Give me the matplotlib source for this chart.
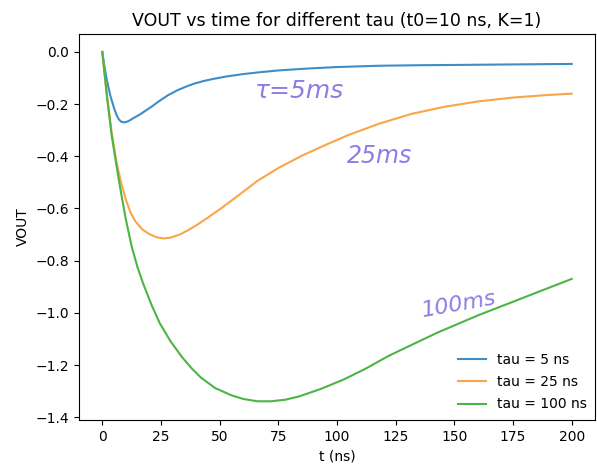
# VOUT vs time for three tau values
import matplotlib
matplotlib.use("Agg")
import matplotlib.pyplot as plt

t_5 = [0, 1, 2, 3.5, 5, 6, 7, 8, 9, 10, 11, 12.5, 14, 16, 18, 21, 24, 28, 32, 36, 39,
       43, 47, 53, 60, 67, 75, 87, 100, 118, 135, 150, 175, 200]
v_5 = [0, -0.06, -0.11, -0.17, -0.215, -0.24, -0.258, -0.267, -0.27, -0.269, -0.266,
       -0.258, -0.25, -0.24, -0.228, -0.21, -0.19, -0.166, -0.147, -0.132, -0.122,
       -0.112, -0.104, -0.094, -0.085, -0.078, -0.071, -0.064, -0.058, -0.053,
       -0.051, -0.05, -0.048, -0.046]

t_25 = [0, 2, 4, 6, 8, 10, 12, 14, 17, 20, 23, 26, 29, 33, 36, 40, 45, 51, 58, 66,
        75, 85, 95, 105, 118, 132, 146, 160, 175, 190, 200]
v_25 = [0, -0.17, -0.31, -0.42, -0.50, -0.565, -0.615, -0.648, -0.68, -0.698, -0.71,
        -0.715, -0.712, -0.70, -0.686, -0.665, -0.635, -0.597, -0.55, -0.495,
        -0.445, -0.398, -0.357, -0.318, -0.275, -0.237, -0.21, -0.19, -0.175,
        -0.165, -0.16]

t_100 = [0, 2, 4, 6.5, 8, 10, 12.5, 15, 17.5, 21, 24.5, 29, 34, 38, 42, 48, 55, 60,
         66, 72, 78, 84, 93, 103, 112, 122, 132, 143, 160, 180, 200]
v_100 = [0, -0.17, -0.32, -0.46, -0.54, -0.64, -0.745, -0.825, -0.89, -0.97, -1.04,
         -1.108, -1.17, -1.212, -1.248, -1.288, -1.316, -1.33, -1.339, -1.339,
         -1.333, -1.32, -1.292, -1.255, -1.215, -1.165, -1.122, -1.075, -1.01,
         -0.94, -0.87]

labels = ["tau = 5 ns", "tau = 25 ns", "tau = 100 ns"]
colors = ["#3d8dc8", "#f9a548", "#4cb544"]
notes = ["τ=5ms", "25ms", "100ms"]

fig = plt.figure(figsize=(5.97, 4.68), dpi=100)
ax = fig.add_axes([0.132, 0.103, 0.865, 0.824])

ax.plot(t_5, v_5, color=colors[0], label=labels[0])
ax.plot(t_25, v_25, color=colors[1], label=labels[1])
ax.plot(t_100, v_100, color=colors[2], label=labels[2])

ax.set_xlim(-10, 210)
ax.set_ylim(-1.41, 0.068)
ax.set_xticks([0, 25, 50, 75, 100, 125, 150, 175, 200])
ax.set_title("VOUT vs time for different tau (t0=10 ns, K=1)", fontsize=12.5)
ax.set_xlabel("t (ns)")
ax.set_ylabel("VOUT")
ax.legend(loc="lower right", frameon=False, borderaxespad=0.2, labelspacing=0.6)

# handwritten notes on the printout
pen = "#8a7ee6"
ax.text(84, -0.15, notes[0], color=pen, fontsize=18, style="italic",
        ha="center", va="center")
ax.text(118, -0.40, notes[1], color=pen, fontsize=17, style="italic",
        ha="center", va="center")
ax.text(152, -0.97, notes[2], color=pen, fontsize=16, style="italic",
        ha="center", va="center", rotation=10)

fig.savefig("out.png", dpi=100)
